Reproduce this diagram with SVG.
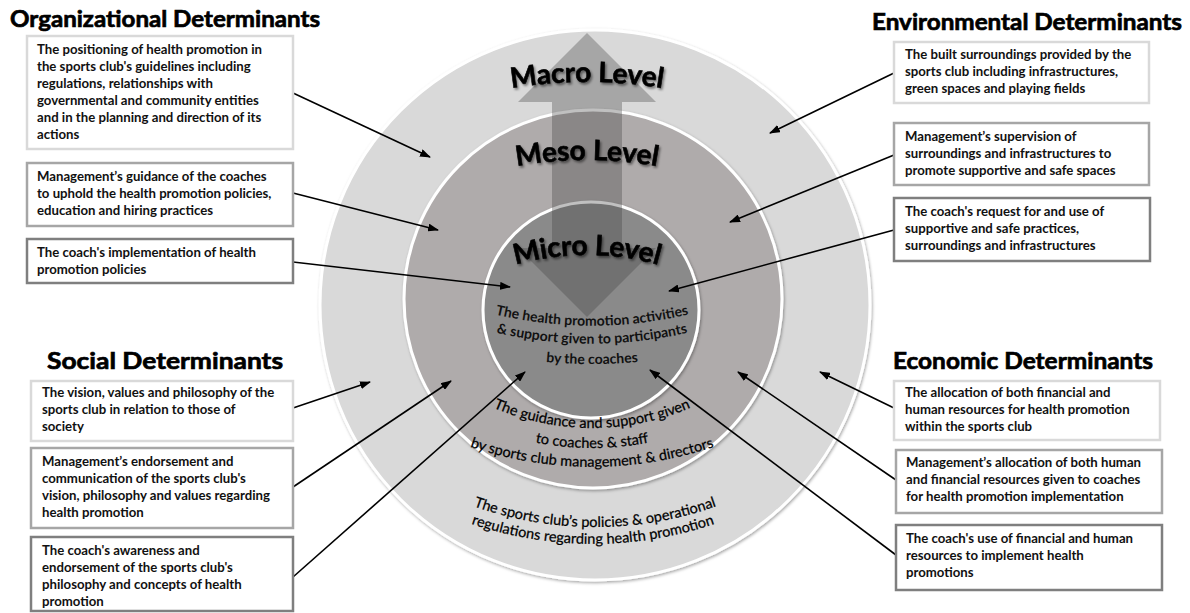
<svg xmlns="http://www.w3.org/2000/svg" width="1190" height="613" viewBox="0 0 1190 613">
<style>
.hdr{font-family:Lato,"Open Sans","Liberation Sans",sans-serif;font-weight:700;font-size:23.5px;fill:#000;stroke:#000;stroke-width:0.7}
.bt{font-family:Lato,"Open Sans","Liberation Sans",sans-serif;font-weight:700;font-size:13.2px;fill:#111}
.box{fill:#fff;stroke-width:2.5}
.lt{stroke:#d9d9d9}
.md{stroke:#a6a6a6}
.dk{stroke:#7f7f7f}
.lvl{font-family:Lato,"Open Sans","Liberation Sans",sans-serif;font-weight:700;font-size:28px;fill:#000;stroke:#000;stroke-width:0.6}
.ct{font-family:Lato,"Open Sans","Liberation Sans",sans-serif;font-weight:400;font-size:14.5px;fill:#000;stroke:#000;stroke-width:0.25}
.ci{font-family:Lato,"Open Sans","Liberation Sans",sans-serif;font-weight:700;font-size:14px;fill:#111}
.conn line{stroke:#000;stroke-width:1.6;marker-end:url(#ah)}
.ring{stroke:#fff;stroke-width:3}
</style>
<defs>
<marker id="ah" markerUnits="userSpaceOnUse" markerWidth="11" markerHeight="8" refX="10" refY="4" orient="auto">
<path d="M0,0 L11,4 L0,8 z" fill="#000"/>
</marker>
<filter id="sh" x="-10%" y="-10%" width="120%" height="120%">
<feDropShadow dx="1" dy="1.5" stdDeviation="1.5" flood-color="#000" flood-opacity="0.35"/>
</filter>
<filter id="tsh" x="-10%" y="-30%" width="120%" height="160%">
<feDropShadow dx="1.5" dy="2" stdDeviation="1.2" flood-color="#000" flood-opacity="0.45"/>
</filter>
<path id="pMacro" d="M437,106.5 A472,472 0 0 1 737,106.5"/>
<path id="pMeso" d="M437,189.2 A400,400 0 0 1 737,189.2"/>
<path id="pMicro" d="M457,289.8 A260,260 0 0 1 717,289.8"/>
<path id="pIn1" d="M442,298 A420,420 0 0 0 742,298"/>
<path id="pIn2" d="M442,316 A420,420 0 0 0 742,316"/>
<path id="pIn3" d="M492,354 A500,500 0 0 0 692,354"/>
<path id="pMe1" d="M462,391.5 A250,250 0 0 0 722,391.5"/>
<path id="pMe2" d="M492,430.8 A300,300 0 0 0 692,430.8"/>
<path id="pMe3" d="M442,436 A380,380 0 0 0 742,436"/>
<path id="pOu1" d="M445,494.8 A365,365 0 0 0 745,494.8"/>
<path id="pOu2" d="M443,513 A380,380 0 0 0 743,513"/>
</defs>

<g id="rings">
<circle class="ring" cx="595" cy="305" r="275" fill="#d9d9d9" filter="url(#sh)"/>
<circle class="ring" cx="593" cy="299" r="189" fill="#afabab" filter="url(#sh)"/>
<circle class="ring" cx="591" cy="310" r="108" fill="#8a8a8a" filter="url(#sh)"/>
</g>

<g id="level-arrow">
<polygon points="587,33 656,102 622,102 622,248 656,248 587,317 518,248 552,248 552,102 518,102" fill="#404040" fill-opacity="0.33"/>
</g>

<g id="level-labels" filter="url(#tsh)">
<text class="lvl"><textPath href="#pMacro" startOffset="50%" text-anchor="middle">Macro Level</textPath></text>
<text class="lvl"><textPath href="#pMeso" startOffset="50%" text-anchor="middle">Meso Level</textPath></text>
<text class="lvl"><textPath href="#pMicro" startOffset="50%" text-anchor="middle">Micro Level</textPath></text>
</g>

<g id="ring-texts">
<text class="ci"><textPath href="#pIn1" startOffset="50%" text-anchor="middle">The health promotion activities</textPath></text>
<text class="ci"><textPath href="#pIn2" startOffset="50%" text-anchor="middle">&amp; support given to participants</textPath></text>
<text class="ci"><textPath href="#pIn3" startOffset="50%" text-anchor="middle">by the coaches</textPath></text>
<text class="ct"><textPath href="#pMe1" startOffset="50%" text-anchor="middle">The guidance and support given</textPath></text>
<text class="ct"><textPath href="#pMe2" startOffset="50%" text-anchor="middle">to coaches &amp; staff</textPath></text>
<text class="ct"><textPath href="#pMe3" startOffset="50%" text-anchor="middle">by sports club management &amp; directors</textPath></text>
<text class="ct"><textPath href="#pOu1" startOffset="50%" text-anchor="middle">The sports club’s policies &amp; operational</textPath></text>
<text class="ct"><textPath href="#pOu2" startOffset="50%" text-anchor="middle">regulations regarding health promotion</textPath></text>
</g>

<g id="connectors" class="conn">
<line x1="293" y1="93" x2="430" y2="157"/>
<line x1="293" y1="193" x2="438" y2="230"/>
<line x1="293" y1="262" x2="510" y2="287"/>
<line x1="894" y1="73" x2="770" y2="133"/>
<line x1="894" y1="155" x2="730" y2="222"/>
<line x1="894" y1="230" x2="669" y2="291"/>
<line x1="293" y1="408" x2="370" y2="382"/>
<line x1="293" y1="487" x2="451" y2="381"/>
<line x1="293" y1="577" x2="525" y2="372"/>
<line x1="894" y1="408" x2="820" y2="372"/>
<line x1="896" y1="480" x2="738" y2="372"/>
<line x1="896" y1="555" x2="650" y2="370"/>
</g>

<g id="hdr-org"><text class="hdr" x="10" y="27" textLength="310" lengthAdjust="spacingAndGlyphs">Organizational Determinants</text></g>
<g id="hdr-env"><text class="hdr" x="872" y="30" textLength="310" lengthAdjust="spacingAndGlyphs">Environmental Determinants</text></g>
<g id="hdr-soc"><text class="hdr" x="47" y="369" textLength="236" lengthAdjust="spacingAndGlyphs">Social Determinants</text></g>
<g id="hdr-eco"><text class="hdr" x="893" y="369" textLength="260" lengthAdjust="spacingAndGlyphs">Economic Determinants</text></g>

<g id="box-o1">
<rect class="box lt" x="27" y="36" width="266" height="113"/>
<text class="bt" x="37" y="54"><tspan x="37">The positioning of health promotion in</tspan><tspan x="37" dy="17">the sports club's guidelines including</tspan><tspan x="37" dy="17">regulations, relationships with</tspan><tspan x="37" dy="17">governmental and community entities</tspan><tspan x="37" dy="17">and in the planning and direction of its</tspan><tspan x="37" dy="17">actions</tspan></text>
</g>
<g id="box-o2">
<rect class="box md" x="27" y="163" width="266" height="63"/>
<text class="bt" x="37" y="181"><tspan x="37">Management’s guidance of the coaches</tspan><tspan x="37" dy="17">to uphold the health promotion policies,</tspan><tspan x="37" dy="17">education and hiring practices</tspan></text>
</g>
<g id="box-o3">
<rect class="box dk" x="27" y="239" width="266" height="44"/>
<text class="bt" x="37" y="257"><tspan x="37">The coach's implementation of health</tspan><tspan x="37" dy="17">promotion policies</tspan></text>
</g>

<g id="box-e1">
<rect class="box lt" x="894" y="42" width="255" height="61"/>
<text class="bt" x="905" y="59"><tspan x="905">The built surroundings provided by the</tspan><tspan x="905" dy="17">sports club including infrastructures,</tspan><tspan x="905" dy="17">green spaces and playing fields</tspan></text>
</g>
<g id="box-e2">
<rect class="box md" x="894" y="123" width="255" height="62"/>
<text class="bt" x="905" y="141"><tspan x="905">Management’s supervision of</tspan><tspan x="905" dy="17">surroundings and infrastructures to</tspan><tspan x="905" dy="17">promote supportive and safe spaces</tspan></text>
</g>
<g id="box-e3">
<rect class="box dk" x="894" y="198" width="256" height="63"/>
<text class="bt" x="905" y="216"><tspan x="905">The coach's request for and use of</tspan><tspan x="905" dy="17">supportive and safe practices,</tspan><tspan x="905" dy="17">surroundings and infrastructures</tspan></text>
</g>

<g id="box-s1">
<rect class="box lt" x="31" y="381" width="262" height="60"/>
<text class="bt" x="42" y="397"><tspan x="42">The vision, values and philosophy of the</tspan><tspan x="42" dy="17">sports club in relation to those of</tspan><tspan x="42" dy="17">society</tspan></text>
</g>
<g id="box-s2">
<rect class="box md" x="31" y="448" width="262" height="80"/>
<text class="bt" x="42" y="466"><tspan x="42">Management’s endorsement and</tspan><tspan x="42" dy="17">communication of the sports club's</tspan><tspan x="42" dy="17">vision, philosophy and values regarding</tspan><tspan x="42" dy="17">health promotion</tspan></text>
</g>
<g id="box-s3">
<rect class="box dk" x="31" y="537" width="262" height="74"/>
<text class="bt" x="42" y="555"><tspan x="42">The coach's awareness and</tspan><tspan x="42" dy="17">endorsement of the sports club's</tspan><tspan x="42" dy="17">philosophy and concepts of health</tspan><tspan x="42" dy="17">promotion</tspan></text>
</g>

<g id="box-ec1">
<rect class="box lt" x="894" y="381" width="266" height="59"/>
<text class="bt" x="905" y="397"><tspan x="905">The allocation of both financial and</tspan><tspan x="905" dy="17">human resources for health promotion</tspan><tspan x="905" dy="17">within the sports club</tspan></text>
</g>
<g id="box-ec2">
<rect class="box md" x="896" y="450" width="266" height="63"/>
<text class="bt" x="906" y="467"><tspan x="906">Management’s allocation of both human</tspan><tspan x="906" dy="17">and financial resources given to coaches</tspan><tspan x="906" dy="17">for health promotion implementation</tspan></text>
</g>
<g id="box-ec3">
<rect class="box dk" x="896" y="525" width="266" height="65"/>
<text class="bt" x="906" y="543"><tspan x="906">The coach's use of financial and human</tspan><tspan x="906" dy="17">resources to implement health</tspan><tspan x="906" dy="17">promotions</tspan></text>
</g>
</svg>
